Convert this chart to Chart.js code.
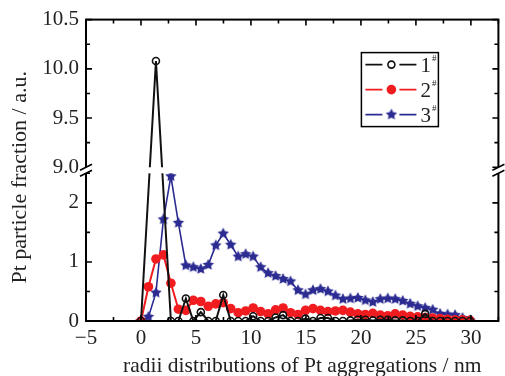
<!DOCTYPE html>
<html>
<head>
<meta charset="utf-8">
<script src="https://cdn.jsdelivr.net/npm/chart.js@4.4.0/dist/chart.umd.min.js"></script>
<style>
  html, body { margin: 0; padding: 0; background: #fff; }
</style>
</head>
<body>
<canvas id="chart" width="505" height="376"></canvas>
<script>
// radius (nm) of each sampled point
const radii = [0, 0.68, 1.36, 2.04, 2.72, 3.40, 4.08, 4.76, 5.44, 6.12,
               6.80, 7.48, 8.16, 8.84, 9.52, 10.20, 10.88, 11.56, 12.24, 12.92,
               13.60, 14.28, 14.96, 15.64, 16.32, 17.00, 17.68, 18.36, 19.04, 19.72,
               20.40, 21.08, 21.76, 22.44, 23.12, 23.80, 24.48, 25.16, 25.84, 26.52,
               27.20, 27.88, 28.56, 29.24, 29.92];

// sample 1# (null = no point there)
const sample1 = [0, null, 10.08, null, 0, 0, 0.38, 0, 0.15, 0,
                 0, 0.44, 0, 0, 0, 0.08, 0, 0, 0.06, 0.10,
                 0, 0, 0.04, 0, 0.05, 0.05, 0, 0, 0.01, 0.02,
                 0.02, 0.01, 0.02, 0.02, 0.01, 0.01, 0, 0, 0.12, 0,
                 0, 0, 0, 0, 0];
const sample2 = [0, 0.58, 1.05, 1.12, 0.64, 0.20, 0.18, 0.35, 0.33, 0.25,
                 0.29, 0.31, 0.21, 0.14, 0.17, 0.22, 0.16, 0.12, 0.19, 0.22,
                 0.14, 0.11, 0.18, 0.21, 0.18, 0.16, 0.17, 0.18, 0.15, 0.12,
                 0.11, 0.13, 0.10, 0.09, 0.12, 0.10, 0.08, 0.07, 0.06, 0.05,
                 0.04, 0.03, 0.02, 0.02, 0.01];
const sample3 = [0, 0.07, 0.48, 1.72, 2.45, 1.66, 0.94, 0.91, 0.88, 0.95,
                 1.28, 1.48, 1.29, 1.09, 1.13, 1.09, 0.91, 0.81, 0.76, 0.71,
                 0.67, 0.52, 0.45, 0.52, 0.54, 0.50, 0.43, 0.37, 0.38, 0.39,
                 0.35, 0.32, 0.37, 0.38, 0.37, 0.34, 0.29, 0.25, 0.22, 0.19,
                 0.12, 0.11, 0.10, 0.05, 0.01];

const seriesLabels = ['1', '2', '3'];
const xTickValues = [-5, 0, 5, 10, 15, 20, 25, 30];
const yTickValues = [0, 1, 2, 9, 9.5, 10, 10.5];
const yBreak = [2.5, 9]; // top of lower panel, bottom of upper panel
const xTitle = 'radii distributions of Pt aggregations / nm';
const yTitle = 'Pt particle fraction / a.u.';

const BLACK = '#111111';
const RED = '#f01c1f';
const BLUE = '#2b2b92';
const SERIF = "'Liberation Serif', 'Times New Roman', serif";

// share of the axis height given to lower panel and to the gap
const LOW_SHARE = 0.49;
const GAP_SHARE = 0.02;

class BrokenScale extends Chart.LinearScale {
  toDecimal(v) {
    if (v <= yBreak[0]) return v / yBreak[0] * LOW_SHARE;
    if (v >= yBreak[1]) return LOW_SHARE + GAP_SHARE + (v - yBreak[1]) / (this.max - yBreak[1]) * (1 - LOW_SHARE - GAP_SHARE);
    return LOW_SHARE + (v - yBreak[0]) / (yBreak[1] - yBreak[0]) * GAP_SHARE;
  }
  buildTicks() {
    this.start = this.min;
    this.end = this.max;
    return yTickValues.map(v => ({ value: v }));
  }
  getPixelForValue(value) {
    if (value === null || value === undefined) return NaN;
    return this.getPixelForDecimal(this.toDecimal(value));
  }
  getValueForPixel(pixel) {
    const d = this.getDecimalForPixel(pixel);
    if (d <= LOW_SHARE) return d / LOW_SHARE * yBreak[0];
    if (d >= LOW_SHARE + GAP_SHARE) return yBreak[1] + (d - LOW_SHARE - GAP_SHARE) / (1 - LOW_SHARE - GAP_SHARE) * (this.max - yBreak[1]);
    return yBreak[0] + (d - LOW_SHARE) / GAP_SHARE * (yBreak[1] - yBreak[0]);
  }
}
BrokenScale.id = 'brokenLinear';
Chart.register(BrokenScale);

function starImage(color, r) {
  const c = document.createElement('canvas');
  const s = Math.ceil(r * 2 + 2);
  c.width = s; c.height = s;
  const g = c.getContext('2d');
  g.fillStyle = color;
  g.beginPath();
  for (let k = 0; k < 10; k++) {
    const rad = k % 2 ? r * 0.5 : r;
    const a = -Math.PI / 2 + k * Math.PI / 5;
    g.lineTo(s / 2 + rad * Math.cos(a), s / 2 + rad * Math.sin(a));
  }
  g.closePath();
  g.fill();
  return c;
}
const star = starImage(BLUE, 6);

function points(values) {
  return radii.map((x, i) => ({ x: x, y: values[i] }));
}

const datasets = [
  {
    label: seriesLabels[0], data: points(sample1),
    borderColor: BLACK, borderWidth: 2, spanGaps: true,
    pointStyle: 'circle', pointRadius: 3.5, pointBorderWidth: 1.6,
    pointBorderColor: BLACK, pointBackgroundColor: 'rgba(0,0,0,0)'
  },
  {
    label: seriesLabels[1], data: points(sample2),
    borderColor: RED, borderWidth: 2,
    pointStyle: 'circle', pointRadius: 4.8, pointBorderWidth: 0,
    pointBackgroundColor: RED
  },
  {
    label: seriesLabels[2], data: points(sample3),
    borderColor: BLUE, borderWidth: 1.6,
    pointStyle: star, pointRadius: 5, pointBackgroundColor: BLUE
  }
];

// frame, inward ticks, axis break marks, axis titles and legend
const framePlugin = {
  id: 'frame',
  afterDatasetsDraw(chart) {
    const { ctx, chartArea: a, scales: { x, y } } = chart;
    const gTop = y.getPixelForValue(yBreak[1]);
    const gBot = y.getPixelForValue(yBreak[0]);
    ctx.save();
    ctx.fillStyle = '#fff';
    ctx.fillRect(a.left, gTop, a.right - a.left, gBot - gTop);

    ctx.strokeStyle = '#000';
    ctx.lineWidth = 2;
    ctx.strokeRect(a.left, a.top, a.right - a.left, a.bottom - a.top);

    ctx.lineWidth = 1.6;
    ctx.beginPath();
    for (let v = x.min; v <= x.max + 1e-6; v += 2.5) {
      const px = x.getPixelForValue(v);
      const len = v % 5 === 0 ? 6 : 4;
      ctx.moveTo(px, a.bottom); ctx.lineTo(px, a.bottom - len);
      ctx.moveTo(px, a.top); ctx.lineTo(px, a.top + len);
    }
    const yMarks = [];
    for (let v = 0; v <= yBreak[0] + 1e-6; v += 0.5) yMarks.push([v, v % 1 === 0]);
    for (let v = yBreak[1]; v <= y.max + 1e-6; v += 0.25) yMarks.push([v, (v * 2) % 1 === 0]);
    yMarks.forEach(([v, major]) => {
      const py = y.getPixelForValue(v);
      const len = major ? 6 : 4;
      ctx.moveTo(a.left, py); ctx.lineTo(a.left + len, py);
      ctx.moveTo(a.right, py); ctx.lineTo(a.right - len, py);
    });
    ctx.stroke();

    // break marks on both vertical axes
    [a.left, a.right].forEach(ax => {
      ctx.fillStyle = '#fff';
      ctx.beginPath();
      ctx.moveTo(ax - 6, gTop + 3); ctx.lineTo(ax + 6, gTop - 3);
      ctx.lineTo(ax + 6, gBot - 3); ctx.lineTo(ax - 6, gBot + 3);
      ctx.closePath();
      ctx.fill();
      ctx.beginPath();
      ctx.moveTo(ax - 6, gTop + 3); ctx.lineTo(ax + 6, gTop - 3);
      ctx.moveTo(ax - 6, gBot + 3); ctx.lineTo(ax + 6, gBot - 3);
      ctx.lineWidth = 1.6;
      ctx.stroke();
    });
    ctx.restore();
  },
  afterDraw(chart) {
    const { ctx, chartArea: a } = chart;
    ctx.save();

    // axis titles
    ctx.fillStyle = '#222';
    ctx.textAlign = 'center';
    ctx.textBaseline = 'alphabetic';
    ctx.font = '21.5px ' + SERIF;
    ctx.fillText(xTitle, (a.left + a.right) / 2 + 10, chart.height - 4);
    ctx.save();
    ctx.translate(26, (a.top + a.bottom) / 2 + 7);
    ctx.rotate(-Math.PI / 2);
    ctx.font = '22px ' + SERIF;
    ctx.fillText(yTitle, 0, 0);
    ctx.restore();
    ctx.textAlign = 'left';

    // legend
    const bx = a.right - 137, by = a.top + 33, bw = 77, bh = 74;
    ctx.fillStyle = '#fff';
    ctx.fillRect(bx, by, bw, bh);
    ctx.strokeStyle = '#000';
    ctx.lineWidth = 1.5;
    ctx.strokeRect(bx, by, bw, bh);
    chart.data.datasets.forEach((ds, i) => {
      const ry = by + 12 + i * 25;
      const mx = bx + 30;
      ctx.strokeStyle = ds.borderColor;
      ctx.lineWidth = 1.6;
      ctx.beginPath();
      ctx.moveTo(bx + 4, ry); ctx.lineTo(bx + 21, ry);
      ctx.moveTo(bx + 38, ry); ctx.lineTo(bx + 55, ry);
      ctx.stroke();
      if (ds.pointStyle === star) {
        ctx.drawImage(star, mx - star.width / 2, ry - star.height / 2);
      } else {
        ctx.beginPath();
        ctx.arc(mx, ry, ds.pointRadius, 0, Math.PI * 2);
        if (ds.pointBorderWidth > 0) {
          ctx.lineWidth = ds.pointBorderWidth;
          ctx.strokeStyle = ds.pointBorderColor;
          ctx.stroke();
        } else {
          ctx.fillStyle = ds.pointBackgroundColor;
          ctx.fill();
        }
      }
      ctx.fillStyle = '#222';
      ctx.font = '21px ' + SERIF;
      ctx.fillText(ds.label, bx + 59, ry + 7);
      const w = ctx.measureText(ds.label).width;
      ctx.font = '9px ' + SERIF;
      ctx.fillText('#', bx + 60 + w, ry - 4);
    });
    ctx.restore();
  }
};

new Chart(document.getElementById('chart'), {
  type: 'line',
  data: { datasets: datasets },
  plugins: [framePlugin],
  options: {
    responsive: false,
    animation: false,
    layout: { padding: { top: 17, right: 5, left: 0, bottom: 0 } },
    elements: { line: { tension: 0 } },
    plugins: { legend: { display: false }, tooltip: { enabled: false } },
    scales: {
      x: {
        type: 'linear', min: -5, max: 32.5,
        grid: { display: false, drawTicks: false },
        border: { display: false },
        afterBuildTicks: s => { s.ticks = xTickValues.map(v => ({ value: v })); },
        afterFit: s => { s.height = 55; },
        ticks: {
          color: '#222', autoSkip: false, maxRotation: 0, padding: 5,
          font: { family: SERIF, size: 21 },
          callback: v => v < 0 ? '\u2212' + Math.abs(v) : String(v)
        },
        title: { display: false }
      },
      y: {
        type: 'brokenLinear', min: 0, max: 10.5,
        grid: { display: false, drawTicks: false },
        border: { display: false },
        afterFit: s => { s.width = 86; },
        ticks: {
          color: '#222', autoSkip: false, padding: 7,
          font: { family: SERIF, size: 21 },
          callback: v => v >= yBreak[1] ? v.toFixed(1) : String(v)
        },
        title: { display: false }
      }
    }
  }
});
</script>
</body>
</html>
